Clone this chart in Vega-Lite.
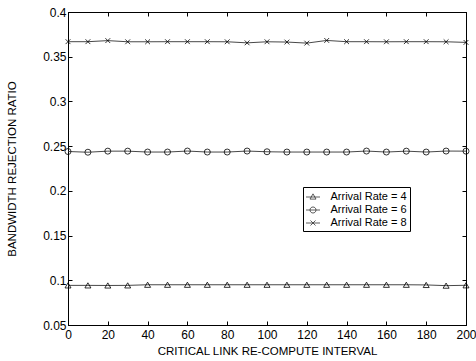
{
  "$schema": "https://vega.github.io/schema/vega-lite/v6.json",
  "width": 398,
  "height": 313,
  "autosize": {"type": "none"},
  "padding": {"left": 68, "top": 12, "right": 10, "bottom": 36},
  "background": "white",
  "config": {
    "view": {"stroke": "black", "strokeWidth": 1},
    "font": "Liberation Sans",
    "axis": {
      "domainColor": "black",
      "domainWidth": 1,
      "tickColor": "black",
      "tickSize": -4,
      "labelColor": "black",
      "titleColor": "black",
      "labelFont": "Liberation Sans",
      "titleFont": "Liberation Sans",
      "labelFontSize": 12,
      "titleFontSize": 11.5,
      "titleFontWeight": "normal",
      "grid": false
    }
  },
  "data": {
    "values": [
      {"interval": 0, "series": "Arrival Rate = 4", "ratio": 0.0943},
      {"interval": 10, "series": "Arrival Rate = 4", "ratio": 0.0943},
      {"interval": 20, "series": "Arrival Rate = 4", "ratio": 0.0942},
      {"interval": 30, "series": "Arrival Rate = 4", "ratio": 0.0943},
      {"interval": 40, "series": "Arrival Rate = 4", "ratio": 0.095},
      {"interval": 50, "series": "Arrival Rate = 4", "ratio": 0.095},
      {"interval": 60, "series": "Arrival Rate = 4", "ratio": 0.095},
      {"interval": 70, "series": "Arrival Rate = 4", "ratio": 0.095},
      {"interval": 80, "series": "Arrival Rate = 4", "ratio": 0.095},
      {"interval": 90, "series": "Arrival Rate = 4", "ratio": 0.095},
      {"interval": 100, "series": "Arrival Rate = 4", "ratio": 0.095},
      {"interval": 110, "series": "Arrival Rate = 4", "ratio": 0.095},
      {"interval": 120, "series": "Arrival Rate = 4", "ratio": 0.095},
      {"interval": 130, "series": "Arrival Rate = 4", "ratio": 0.095},
      {"interval": 140, "series": "Arrival Rate = 4", "ratio": 0.095},
      {"interval": 150, "series": "Arrival Rate = 4", "ratio": 0.095},
      {"interval": 160, "series": "Arrival Rate = 4", "ratio": 0.095},
      {"interval": 170, "series": "Arrival Rate = 4", "ratio": 0.095},
      {"interval": 180, "series": "Arrival Rate = 4", "ratio": 0.0948},
      {"interval": 190, "series": "Arrival Rate = 4", "ratio": 0.094},
      {"interval": 200, "series": "Arrival Rate = 4", "ratio": 0.0944},
      {"interval": 0, "series": "Arrival Rate = 6", "ratio": 0.244},
      {"interval": 10, "series": "Arrival Rate = 6", "ratio": 0.2432},
      {"interval": 20, "series": "Arrival Rate = 6", "ratio": 0.2444},
      {"interval": 30, "series": "Arrival Rate = 6", "ratio": 0.2444},
      {"interval": 40, "series": "Arrival Rate = 6", "ratio": 0.2434},
      {"interval": 50, "series": "Arrival Rate = 6", "ratio": 0.2434},
      {"interval": 60, "series": "Arrival Rate = 6", "ratio": 0.2445},
      {"interval": 70, "series": "Arrival Rate = 6", "ratio": 0.2434},
      {"interval": 80, "series": "Arrival Rate = 6", "ratio": 0.2434},
      {"interval": 90, "series": "Arrival Rate = 6", "ratio": 0.2445},
      {"interval": 100, "series": "Arrival Rate = 6", "ratio": 0.2437},
      {"interval": 110, "series": "Arrival Rate = 6", "ratio": 0.2434},
      {"interval": 120, "series": "Arrival Rate = 6", "ratio": 0.2434},
      {"interval": 130, "series": "Arrival Rate = 6", "ratio": 0.2434},
      {"interval": 140, "series": "Arrival Rate = 6", "ratio": 0.2434},
      {"interval": 150, "series": "Arrival Rate = 6", "ratio": 0.2445},
      {"interval": 160, "series": "Arrival Rate = 6", "ratio": 0.2434},
      {"interval": 170, "series": "Arrival Rate = 6", "ratio": 0.2444},
      {"interval": 180, "series": "Arrival Rate = 6", "ratio": 0.2434},
      {"interval": 190, "series": "Arrival Rate = 6", "ratio": 0.2445},
      {"interval": 200, "series": "Arrival Rate = 6", "ratio": 0.2444},
      {"interval": 0, "series": "Arrival Rate = 8", "ratio": 0.3668},
      {"interval": 10, "series": "Arrival Rate = 8", "ratio": 0.3668},
      {"interval": 20, "series": "Arrival Rate = 8", "ratio": 0.368},
      {"interval": 30, "series": "Arrival Rate = 8", "ratio": 0.3667},
      {"interval": 40, "series": "Arrival Rate = 8", "ratio": 0.3667},
      {"interval": 50, "series": "Arrival Rate = 8", "ratio": 0.3668},
      {"interval": 60, "series": "Arrival Rate = 8", "ratio": 0.3668},
      {"interval": 70, "series": "Arrival Rate = 8", "ratio": 0.3668},
      {"interval": 80, "series": "Arrival Rate = 8", "ratio": 0.3667},
      {"interval": 90, "series": "Arrival Rate = 8", "ratio": 0.3655},
      {"interval": 100, "series": "Arrival Rate = 8", "ratio": 0.3667},
      {"interval": 110, "series": "Arrival Rate = 8", "ratio": 0.3664},
      {"interval": 120, "series": "Arrival Rate = 8", "ratio": 0.3652},
      {"interval": 130, "series": "Arrival Rate = 8", "ratio": 0.3682},
      {"interval": 140, "series": "Arrival Rate = 8", "ratio": 0.3668},
      {"interval": 150, "series": "Arrival Rate = 8", "ratio": 0.3668},
      {"interval": 160, "series": "Arrival Rate = 8", "ratio": 0.3667},
      {"interval": 170, "series": "Arrival Rate = 8", "ratio": 0.3668},
      {"interval": 180, "series": "Arrival Rate = 8", "ratio": 0.3668},
      {"interval": 190, "series": "Arrival Rate = 8", "ratio": 0.3667},
      {"interval": 200, "series": "Arrival Rate = 8", "ratio": 0.366}
    ]
  },
  "layer": [
    {
      "mark": {"type": "line", "stroke": "#333333", "strokeWidth": 0.9},
      "encoding": {
        "x": {
          "field": "interval", "type": "quantitative",
          "scale": {"domain": [0, 200], "nice": false, "zero": false},
          "axis": {"orient": "bottom", "values": [0, 20, 40, 60, 80, 100, 120, 140, 160, 180, 200], "labelPadding": 8, "title": "CRITICAL LINK RE-COMPUTE INTERVAL", "titlePadding": 5, "labelFlush": false}
        },
        "y": {
          "field": "ratio", "type": "quantitative",
          "scale": {"domain": [0.05, 0.4], "nice": false, "zero": false},
          "axis": {"orient": "left", "values": [0.05, 0.1, 0.15, 0.2, 0.25, 0.3, 0.35, 0.4], "format": "~g", "labelPadding": 6, "title": "BANDWIDTH REJECTION RATIO", "titlePadding": 25}
        },
        "detail": {"field": "series", "type": "nominal"}
      }
    },
    {
      "mark": {"type": "point", "filled": false, "color": "black", "strokeWidth": 0.8, "size": 36, "opacity": 1},
      "encoding": {
        "x": {
          "field": "interval", "type": "quantitative",
          "axis": {"orient": "top", "values": [0, 20, 40, 60, 80, 100, 120, 140, 160, 180, 200], "labels": false, "title": null}
        },
        "y": {
          "field": "ratio", "type": "quantitative",
          "axis": {"orient": "right", "values": [0.05, 0.1, 0.15, 0.2, 0.25, 0.3, 0.35, 0.4], "labels": false, "title": null}
        },
        "shape": {
          "field": "series", "type": "nominal",
          "scale": {"domain": ["Arrival Rate = 4", "Arrival Rate = 6", "Arrival Rate = 8"], "range": ["triangle-up", "circle", "M-0.8,-0.8L0.8,0.8M0.8,-0.8L-0.8,0.8"]},
          "legend": null
        }
      }
    },
    {
      "mark": {"type": "point", "filled": false, "color": "black", "opacity": 0},
      "encoding": {
        "x": {"field": "interval", "type": "quantitative", "axis": null},
        "y": {"field": "ratio", "type": "quantitative", "axis": null},
        "shape": {
          "field": "series", "type": "nominal",
          "scale": {"domain": ["Arrival Rate = 4", "Arrival Rate = 6", "Arrival Rate = 8"], "range": [
            "M-1,0L1,0M0,-0.45L0.43,0.3L-0.43,0.3Z",
            "M-1,0L1,0M0.43,0A0.43,0.43 0 1,1 -0.43,0A0.43,0.43 0 1,1 0.43,0",
            "M-1,0L1,0M-0.36,-0.36L0.36,0.36M0.36,-0.36L-0.36,0.36"
          ]},
          "legend": {
            "title": null,
            "orient": "none",
            "legendX": 235,
            "legendY": 175,
            "padding": 2.5,
            "strokeColor": "black",
            "fillColor": "white",
            "cornerRadius": 0,
            "labelFont": "Liberation Sans",
            "labelFontSize": 11,
            "labelColor": "black",
            "labelOffset": 10,
            "rowPadding": 0,
            "symbolSize": 196,
            "symbolStrokeWidth": 0.8,
            "symbolStrokeColor": "#333333",
            "symbolFillColor": "transparent",
            "symbolOpacity": 1,
            "encode": {
              "symbols": {"update": {"opacity": {"value": 1}, "strokeOpacity": {"value": 1}, "stroke": {"value": "#333333"}, "fill": {"value": "transparent"}, "size": {"value": 196}}}
            }
          }
        }
      }
    }
  ],
  "resolve": {"axis": {"x": "independent", "y": "independent"}, "scale": {"shape": "independent"}}
}
